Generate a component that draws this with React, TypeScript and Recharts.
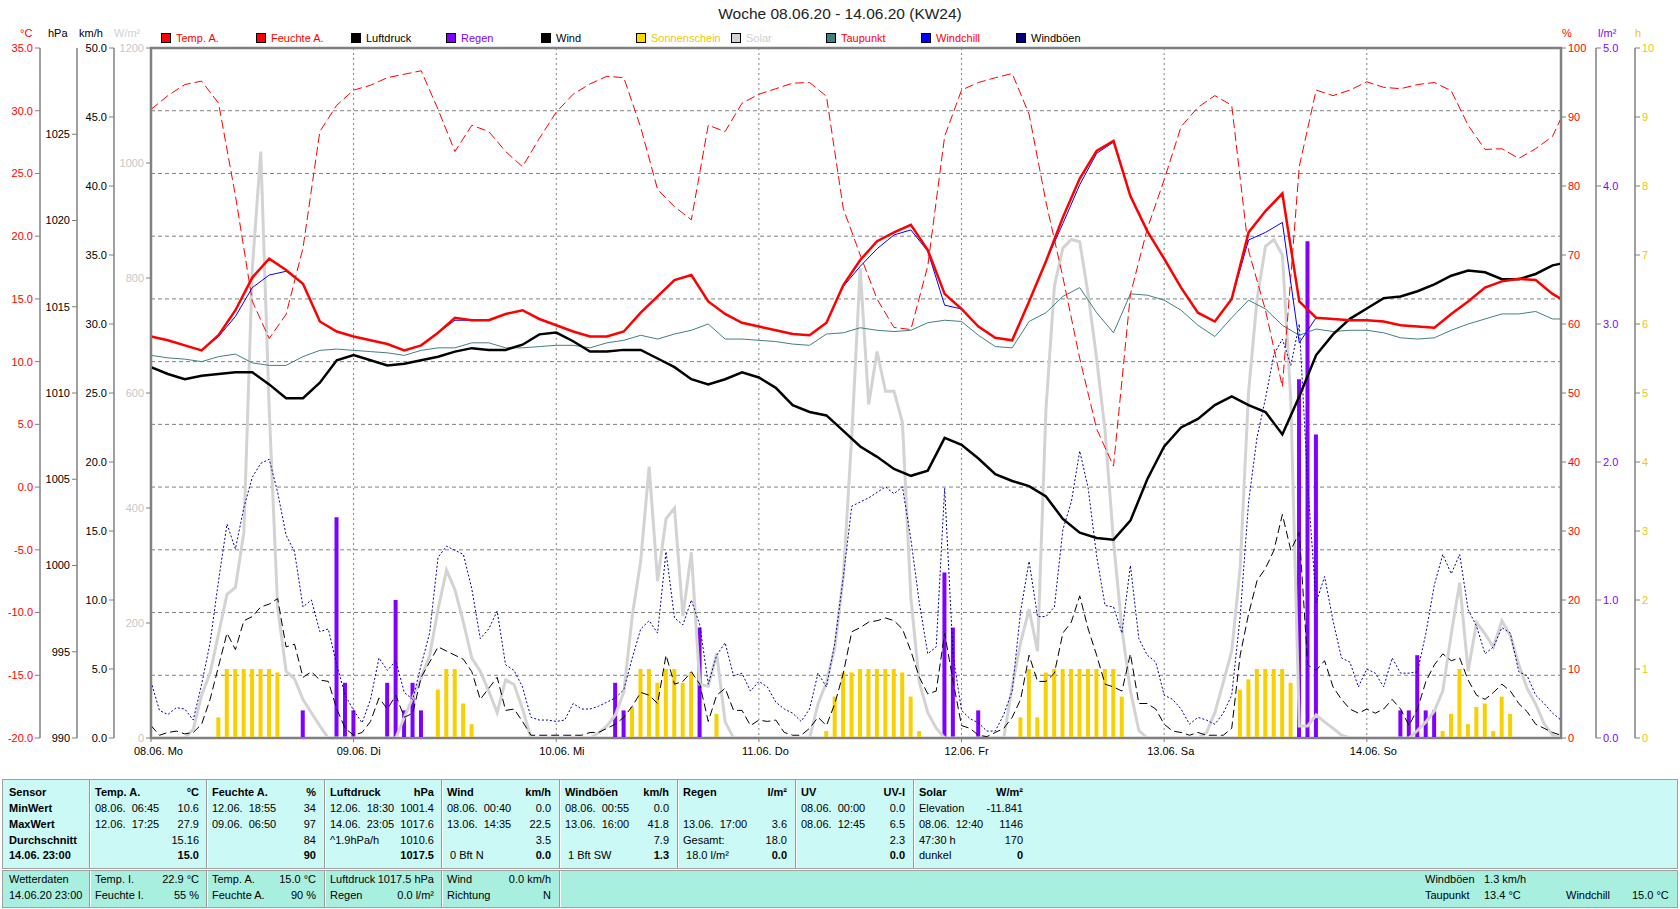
import React from "react";
import {
  ComposedChart,
  Line,
  Bar,
  XAxis,
  YAxis,
  CartesianGrid,
  ReferenceArea,
} from "recharts";

const FONT = '"Liberation Sans", Arial, sans-serif';
const NARROW = '"Liberation Sans Narrow", "Arial Narrow", "Liberation Sans", Arial, sans-serif';
const GRID = "#808080";

const dayLabels = ["08.06. Mo", "09.06. Di", "10.06. Mi", "11.06. Do", "12.06. Fr", "13.06. Sa", "14.06. So"];
const dayTicks = [0, 24, 48, 72, 96, 120, 144];

const tempTicks = [-20, -15, -10, -5, 0, 5, 10, 15, 20, 25, 30, 35];
const pressTicks = [990, 995, 1000, 1005, 1010, 1015, 1020, 1025];
const windTicks = [0, 5, 10, 15, 20, 25, 30, 35, 40, 45, 50];
const solarTicks = [0, 200, 400, 600, 800, 1000, 1200];
const humTicks = [0, 10, 20, 30, 40, 50, 60, 70, 80, 90, 100];
const rainTicks = [0, 1, 2, 3, 4, 5];
const sunTicks = [0, 1, 2, 3, 4, 5, 6, 7, 8, 9, 10];

// every 2 hours (00:00, 02:00 ... 22:00 per day) plus the last reading 14.06. 23:00
const tempA = [
  12.0, 11.7, 11.3, 10.9, 12.1, 14.1, 16.7, 18.2, 17.3, 16.2, 13.2, 12.4,
  12.0, 11.7, 11.4, 10.9, 11.3, 12.3, 13.5, 13.3, 13.3, 13.8, 14.1, 13.4,
  12.9, 12.4, 12.0, 12.0, 12.4, 13.9, 15.2, 16.5, 16.9, 14.8, 13.8, 13.1,
  12.8, 12.5, 12.2, 12.1, 13.1, 16.1, 18.1, 19.6, 20.3, 20.9, 18.9, 15.4,
  14.2, 12.8, 11.9, 11.7, 14.8, 18.0, 21.5, 24.6, 26.8, 27.6, 23.2, 20.4,
  18.2, 15.9, 13.9, 13.2, 15.0, 20.3, 22.0, 23.4, 14.8, 13.5, 13.4, 13.3,
  13.3, 13.2, 12.9, 12.8, 12.7, 13.8, 14.8, 15.9, 16.4, 16.6, 16.5, 15.4,
  15.0,
];
const windchill = [
  12.0, 11.7, 11.3, 10.9, 12.0, 13.6, 15.9, 16.9, 17.2, 16.2, 13.2, 12.4,
  12.0, 11.7, 11.4, 10.9, 11.3, 12.3, 13.3, 13.3, 13.3, 13.8, 14.1, 13.4,
  12.9, 12.4, 12.0, 12.0, 12.4, 13.9, 15.2, 16.5, 16.9, 14.8, 13.8, 13.1,
  12.8, 12.5, 12.2, 12.1, 13.1, 16.0, 17.6, 19.0, 20.1, 20.5, 18.8, 14.5,
  14.2, 12.8, 11.9, 11.7, 14.8, 18.0, 21.0, 24.1, 26.6, 27.5, 23.2, 20.4,
  18.2, 15.9, 13.9, 13.2, 15.0, 19.7, 20.3, 21.1, 11.5, 13.5, 13.4, 13.3,
  13.3, 13.2, 12.9, 12.8, 12.7, 13.8, 14.8, 15.9, 16.4, 16.6, 16.5, 15.4,
  15.0,
];
const dewPoint = [
  10.5, 10.3, 10.2, 10.0, 10.4, 10.6, 9.9, 9.7, 9.7, 10.4, 10.9, 11.0,
  10.9, 10.8, 10.7, 10.5, 10.9, 11.1, 11.1, 11.5, 11.5, 11.1, 11.1, 11.2,
  11.3, 11.3, 11.1, 11.5, 11.7, 12.1, 11.8, 12.2, 12.5, 13.0, 11.8, 11.8,
  11.7, 11.6, 11.4, 11.3, 12.2, 12.3, 12.7, 12.5, 12.4, 12.5, 13.1, 13.3,
  13.2, 12.1, 11.2, 11.1, 13.2, 13.9, 15.2, 15.9, 13.9, 12.3, 15.4, 15.3,
  14.9, 14.1, 12.9, 12.0, 13.5, 14.9, 14.2, 12.9, 12.1, 12.6, 12.4, 12.5,
  12.5, 12.3, 11.9, 11.8, 11.9, 12.5, 13.0, 13.4, 13.8, 13.8, 14.0, 13.4,
  13.4,
];
const humidity = [
  91.1, 93.1, 94.7, 95.2, 92.0, 78.6, 63.3, 57.9, 61.4, 71.0, 87.9, 91.7,
  93.9, 94.6, 95.7, 96.2, 96.7, 91.1, 85.0, 88.8, 87.9, 85.0, 82.8, 86.9,
  90.7, 93.3, 94.8, 95.9, 95.7, 88.5, 79.5, 77.0, 75.1, 88.8, 87.9, 92.0,
  93.3, 94.1, 94.9, 95.0, 93.0, 76.7, 70.0, 63.6, 59.5, 59.2, 68.4, 87.2,
  93.9, 95.0, 95.7, 96.3, 90.4, 77.7, 66.8, 55.0, 44.8, 39.4, 64.3, 73.8,
  80.9, 88.6, 91.4, 93.1, 91.7, 70.6, 62.0, 50.9, 82.8, 93.9, 93.1, 93.9,
  95.1, 94.3, 94.1, 94.7, 95.0, 93.8, 88.8, 85.3, 85.4, 84.0, 85.4, 87.2,
  89.8,
];
const pressure = [
  1011.5, 1011.1, 1010.8, 1011.0, 1011.1, 1011.2, 1011.2, 1010.5, 1009.7, 1009.7, 1010.6, 1011.9,
  1012.2, 1011.9, 1011.6, 1011.7, 1011.9, 1012.1, 1012.4, 1012.6, 1012.5, 1012.5, 1012.8, 1013.4,
  1013.5, 1013.0, 1012.4, 1012.4, 1012.5, 1012.5, 1012.0, 1011.5, 1010.8, 1010.5, 1010.8, 1011.2,
  1010.9, 1010.3, 1009.3, 1008.9, 1008.7, 1007.8, 1006.9, 1006.3, 1005.6, 1005.2, 1005.5, 1007.4,
  1007.0, 1006.2, 1005.3, 1004.9, 1004.6, 1004.0, 1002.7, 1001.9, 1001.6, 1001.5, 1002.6, 1005.0,
  1006.9, 1008.0, 1008.5, 1009.3, 1009.8, 1009.3, 1008.9, 1007.6, 1009.8, 1012.2, 1013.4, 1014.3,
  1014.9, 1015.5, 1015.6, 1015.9, 1016.3, 1016.8, 1017.1, 1017.0, 1016.6, 1016.6, 1016.9, 1017.4,
  1017.5,
];

// hourly readings, 08.06. 00:00 ... 14.06. 23:00
const solar = [
  0, 0, 0, 0, 0, 15, 75, 113, 181, 250, 262, 358, 817, 1020, 572, 227, 116, 103, 67, 44, 21, 0, 0, 0,
  0, 0, 0, 0, 0, 0, 36, 70, 105, 143, 224, 292, 258, 201, 139, 116, 82, 44, 101, 93, 51, 0, 0, 0,
  0, 0, 0, 0, 0, 9, 21, 40, 80, 212, 308, 472, 273, 381, 400, 212, 323, 93, 90, 147, 28, 0, 0, 0,
  0, 0, 0, 0, 0, 0, 0, 59, 97, 158, 281, 526, 817, 580, 672, 603, 603, 549, 243, 97, 44, 17, 0, 0,
  0, 0, 0, 0, 0, 0, 90, 166, 224, 151, 572, 786, 852, 867, 863, 771, 660, 534, 342, 189, 82, 13, 0, 0,
  0, 0, 0, 0, 0, 9, 44, 97, 151, 296, 603, 763, 855, 867, 840, 587, 21, 21, 40, 28, 17, 5, 0, 0,
  0, 0, 0, 0, 0, 0, 13, 28, 47, 82, 181, 270, 116, 201, 181, 158, 204, 178, 128, 86, 59, 25, 5, 0,
];
const wind = [
  0.9, 0.2, 0.4, 0.5, 0.3, 0.4, 1.0, 2.8, 5.2, 7.6, 6.4, 8.5, 8.8, 9.5, 9.7, 10.1, 6.6, 6.8, 4.4, 4.8, 4.2, 4.1, 2.1, 0.7,
  0.2, 0.4, 1.2, 2.9, 2.1, 3.1, 1.5, 1.8, 4.4, 5.5, 6.6, 6.3, 6.0, 5.7, 4.8, 2.8, 3.6, 4.4, 2.0, 2.1, 1.2, 0.2, 0.2, 0.2,
  0.2, 0.2, 0.2, 0.2, 0.4, 0.4, 0.7, 1.0, 1.5, 2.3, 3.3, 3.1, 2.5, 6.0, 3.9, 4.1, 4.8, 3.9, 1.2, 3.1, 3.6, 2.0, 2.0, 0.9,
  1.3, 1.2, 1.3, 0.4, 0.2, 0.2, 0.7, 1.5, 0.9, 2.5, 4.7, 7.7, 8.0, 8.4, 8.5, 8.7, 8.5, 7.9, 6.3, 4.4, 3.2, 3.4, 7.6, 4.1,
  0.9, 0.7, 0.2, 0.1, 0.4, 0.7, 1.5, 2.8, 6.0, 4.1, 4.1, 4.7, 7.6, 8.4, 10.3, 7.9, 6.0, 3.9, 3.7, 3.4, 6.1, 2.5, 2.5, 2.1,
  1.0, 0.5, 0.4, 0.2, 0.4, 0.2, 0.2, 0.2, 0.7, 6.0, 9.0, 11.4, 12.3, 13.6, 16.2, 13.6, 14.9, 5.3, 4.9, 5.6, 3.7, 2.8, 2.1, 1.8,
  2.1, 1.8, 2.1, 2.8, 2.1, 0.9, 2.1, 4.1, 5.3, 6.1, 5.6, 5.8, 4.2, 3.1, 2.8, 3.3, 3.9, 3.4, 2.5, 1.9, 1.0, 0.7, 0.4, 0.2,
];
const gusts = [
  4.1, 2.0, 1.7, 2.2, 2.1, 1.3, 3.9, 6.9, 11.4, 15.5, 13.7, 16.7, 18.9, 19.9, 20.2, 17.8, 14.7, 13.5, 9.5, 10.0, 7.7, 7.9, 5.3, 3.1,
  2.0, 1.1, 2.8, 5.8, 4.9, 5.6, 3.3, 2.8, 5.3, 7.6, 13.1, 13.9, 13.6, 13.3, 10.8, 7.2, 7.9, 9.2, 5.3, 4.9, 3.7, 1.5, 1.3, 1.3,
  1.2, 1.3, 2.5, 2.1, 2.1, 2.3, 2.6, 2.9, 3.5, 5.8, 7.9, 8.5, 7.6, 13.5, 8.7, 8.2, 10.0, 8.2, 3.9, 6.0, 6.9, 4.5, 4.7, 3.4,
  4.1, 3.7, 2.6, 2.1, 1.8, 1.2, 2.1, 4.7, 3.7, 6.9, 11.7, 16.8, 17.1, 17.4, 17.8, 18.2, 17.7, 18.2, 14.4, 9.8, 6.1, 6.6, 18.1, 6.0,
  2.0, 1.4, 1.1, 0.5, 0.5, 1.7, 3.4, 9.2, 12.8, 8.8, 8.8, 9.5, 15.1, 17.1, 20.8, 18.1, 13.2, 9.6, 9.5, 7.6, 12.5, 7.2, 6.0, 5.5,
  3.1, 2.8, 2.1, 1.0, 1.5, 1.3, 1.0, 1.8, 3.1, 8.8, 17.1, 21.8, 24.6, 27.8, 28.9, 27.0, 30.0, 18.4, 9.8, 11.7, 8.5, 5.8, 5.5, 3.7,
  5.0, 4.7, 3.7, 5.8, 4.7, 4.7, 4.8, 7.6, 11.1, 13.3, 11.9, 13.3, 9.3, 8.1, 6.1, 6.6, 8.0, 7.6, 4.8, 4.5, 3.1, 2.5, 1.8, 1.3,
];

// rain (l/m²) and sunshine (h) per hour, only hours with a value
const rainHours = [18, 22, 23, 24, 28, 29, 30, 31, 32, 55, 56, 65, 94, 95, 98, 136, 137, 138, 148, 149, 150, 151, 152];
const rainVals = [0.2, 1.6, 0.4, 0.2, 0.4, 1.0, 0.2, 0.4, 0.2, 0.4, 0.2, 0.8, 1.2, 0.8, 0.2, 2.6, 3.6, 2.2, 0.2, 0.2, 0.6, 0.2, 0.2];
const sunHours = [
  8, 9, 10, 11, 12, 13, 14, 15,
  34, 35, 36, 37, 38,
  57, 58, 59, 60, 61, 62, 63, 64, 67,
  80, 81, 82, 83, 84, 85, 86, 87, 88, 89, 90, 91,
  103, 104, 105, 106, 107, 108, 109, 110, 111, 112, 113, 114, 115,
  129, 130, 131, 132, 133, 134, 135,
  153, 154, 155, 156, 157, 158, 159, 160, 161,
];
const sunVals = [
  0.3, 1, 1, 1, 1, 1, 1, 0.95,
  0.7, 1, 1, 0.5, 0.2,
  0.45, 1, 1, 0.8, 1, 1, 0.8, 0.95, 0.35,
  0.1, 0.6, 0.95, 0.95, 1, 1, 1, 1, 1, 0.95, 0.6, 0.1,
  0.3, 1, 0.3, 0.95, 1, 1, 1, 1, 1, 1, 1, 1, 0.6,
  0.7, 0.85, 1, 1, 1, 1, 0.8,
  0.1, 0.35, 1, 0.2, 0.45, 0.5, 0.1, 0.6, 0.35,
];

const rows = Array.from({ length: 168 }, (_, h) => {
  const i = h === 167 ? 84 : h % 2 === 0 ? h / 2 : -1;
  const pick = (arr: number[]) => (i >= 0 ? arr[i] : null);
  const r = rainHours.indexOf(h);
  const s = sunHours.indexOf(h);
  return {
    h,
    temp: pick(tempA),
    chill: pick(windchill),
    dew: pick(dewPoint),
    hum: pick(humidity),
    press: pick(pressure),
    solar: solar[h],
    wind: wind[h],
    gust: gusts[h],
    rain: r >= 0 ? rainVals[r] : null,
    sun: s >= 0 ? sunVals[s] : null,
  };
});

const legendNames = ["Temp. A.", "Feuchte A.", "Luftdruck", "Regen", "Wind", "Sonnenschein", "Solar", "Taupunkt", "Windchill", "Windböen"];
const legendBox = ["#FF0000", "#FF0000", "#000000", "#8000FF", "#000000", "#FFD700", "#D3D3D3", "#408080", "#0000FF", "#000080"];
const legendText = ["#FF0000", "#FF0000", "#000000", "#8000FF", "#000000", "#F0C800", "#D0D0D0", "#FF0000", "#FF0000", "#000000"];

const statHead = [
  ["Temp. A.", "°C"], ["Feuchte A.", "%"], ["Luftdruck", "hPa"], ["Wind", "km/h"],
  ["Windböen", "km/h"], ["Regen", "l/m²"], ["UV", "UV-I"], ["Solar", "W/m²"],
];
const statRowNames = ["MinWert", "MaxWert", "Durchschnitt", "14.06. 23:00"];
const statCells = [
  [["08.06.  06:45", "10.6"], ["12.06.  17:25", "27.9"], ["", "15.16"], ["", "15.0"]],
  [["12.06.  18:55", "34"], ["09.06.  06:50", "97"], ["", "84"], ["", "90"]],
  [["12.06.  18:30", "1001.4"], ["14.06.  23:05", "1017.6"], ["^1.9hPa/h", "1010.6"], ["", "1017.5"]],
  [["08.06.  00:40", "0.0"], ["13.06.  14:35", "22.5"], ["", "3.5"], [" 0 Bft N", "0.0"]],
  [["08.06.  00:55", "0.0"], ["13.06.  16:00", "41.8"], ["", "7.9"], [" 1 Bft SW", "1.3"]],
  [["", ""], ["13.06.  17:00", "3.6"], ["Gesamt:", "18.0"], [" 18.0 l/m²", "0.0"]],
  [["08.06.  00:00", "0.0"], ["08.06.  12:45", "6.5"], ["", "2.3"], ["", "0.0"]],
  [["Elevation", "-11.841"], ["08.06.  12:40", "1146"], ["47:30 h", "170"], ["dunkel", "0"]],
];
const nowCells = [
  [["Temp. I.", "22.9 °C"], ["Feuchte I.", "55 %"]],
  [["Temp. A.", "15.0 °C"], ["Feuchte A.", "90 %"]],
  [["Luftdruck", "1017.5 hPa"], ["Regen", "0.0 l/m²"]],
  [["Wind", "0.0 km/h"], ["Richtung", "N"]],
];
const colLeft = [89, 206, 324, 441, 559, 677, 795, 913];

function DayTick(props: any) {
  const { x, y, payload } = props;
  return (
    <text x={x - 17} y={y + 11} fontSize={11} fontFamily={FONT} fill="#000">
      {dayLabels[Math.round(payload.value / 24)]}
    </text>
  );
}

function Txt(props: any) {
  const { x, y, children, bold, right, color = "#000", size = 11 } = props;
  const style: React.CSSProperties = {
    position: "absolute",
    top: y - 7,
    left: right ? x - 200 : x,
    width: right ? 200 : undefined,
    textAlign: right ? "right" : "left",
    fontWeight: bold ? 700 : 400,
    fontSize: size,
    lineHeight: "14px",
    whiteSpace: "pre",
    color,
    fontFamily: NARROW,
  };
  return <div style={style}>{children}</div>;
}

function Sep({ x, top, height }: { x: number; top: number; height: number }) {
  return (
    <div style={{ position: "absolute", left: x, top, width: 1, height, background: "#9A9A9A", borderRight: "1px solid #FFFFFF" }} />
  );
}

export default function App() {
  const tick = { fontSize: 11, fontFamily: FONT };
  const rowY = [792, 808, 824, 840, 855];
  // axis ids are ordered alphabetically by recharts: a* sits next to the plot, d* outermost
  return (
    <div style={{ position: "absolute", left: 0, top: 0, width: 1680, height: 909, background: "#fff", overflow: "hidden" }}>
      <ComposedChart width={1680} height={778} data={rows} margin={{ top: 48, right: 0, bottom: 10, left: 0 }}>
        <XAxis xAxisId="x" dataKey="h" type="number" domain={[0, 167]} ticks={dayTicks} interval={0}
          tick={<DayTick />} tickSize={4} tickLine={{ stroke: GRID }} axisLine={{ stroke: GRID, strokeWidth: 2 }} height={30} />
        <XAxis xAxisId="x2" dataKey="h" type="number" domain={[0, 167]} hide />
        <YAxis yAxisId="aSolar" domain={[0, 1200]} ticks={solarTicks} interval={0} width={37} tickSize={5}
          tick={{ ...tick, fill: "#C8C8C8" }} tickLine={{ stroke: GRID }} axisLine={{ stroke: GRID, strokeWidth: 2 }} />
        <YAxis yAxisId="bWind" domain={[0, 50]} ticks={windTicks} interval={0} width={37} tickSize={5}
          tick={{ ...tick, fill: "#000" }} tickFormatter={(v: number) => v.toFixed(1)}
          tickLine={{ stroke: GRID }} axisLine={{ stroke: GRID, strokeWidth: 1.5 }} />
        <YAxis yAxisId="cPress" domain={[990, 1030]} ticks={pressTicks} interval={0} width={37} tickSize={5}
          tick={{ ...tick, fill: "#000" }} tickLine={{ stroke: GRID }} axisLine={{ stroke: GRID, strokeWidth: 1.5 }} />
        <YAxis yAxisId="dTemp" domain={[-20, 35]} ticks={tempTicks} interval={0} width={40} tickSize={5}
          tick={{ ...tick, fill: "#FF0000" }} tickFormatter={(v: number) => v.toFixed(1)}
          tickLine={{ stroke: GRID }} axisLine={{ stroke: GRID, strokeWidth: 1.5 }} />
        <YAxis yAxisId="eHum" orientation="right" domain={[0, 100]} ticks={humTicks} interval={0} width={35} tickSize={5}
          tick={{ ...tick, fill: "#FF0000" }} tickLine={{ stroke: GRID }} axisLine={{ stroke: GRID, strokeWidth: 2 }} />
        <YAxis yAxisId="fRain" orientation="right" domain={[0, 5]} ticks={rainTicks} interval={0} width={39} tickSize={5}
          tick={{ ...tick, fill: "#8000FF" }} tickFormatter={(v: number) => v.toFixed(1)}
          tickLine={{ stroke: GRID }} axisLine={{ stroke: GRID, strokeWidth: 1.5 }} />
        <YAxis yAxisId="gSun" orientation="right" domain={[0, 10]} ticks={sunTicks} interval={0} width={45} tickSize={5}
          tick={{ ...tick, fill: "#F0C800" }} tickLine={{ stroke: GRID }} axisLine={{ stroke: GRID, strokeWidth: 1.5 }} />

        <CartesianGrid xAxisId="x" yAxisId="dTemp" vertical={false} stroke={GRID} strokeDasharray="4 3" />
        <CartesianGrid xAxisId="x" yAxisId="dTemp" horizontal={false} stroke={GRID} strokeDasharray="2 3" />

        <Bar xAxisId="x" yAxisId="gSun" dataKey="sun" fill="#F8D000" barSize={4} isAnimationActive={false} />
        <Line xAxisId="x" yAxisId="aSolar" dataKey="solar" stroke="#D3D3D3" strokeWidth={3} dot={false} isAnimationActive={false} />
        <Line xAxisId="x" yAxisId="bWind" dataKey="wind" stroke="#000000" strokeWidth={1} strokeDasharray="8 4" dot={false} isAnimationActive={false} />
        <Line xAxisId="x" yAxisId="bWind" dataKey="gust" stroke="#0000A0" strokeWidth={1} strokeDasharray="2 2" dot={false} isAnimationActive={false} />
        <Bar xAxisId="x2" yAxisId="fRain" dataKey="rain" fill="#8000FF" barSize={4} isAnimationActive={false} />
        <Line xAxisId="x" yAxisId="dTemp" dataKey="dew" stroke="#408080" strokeWidth={1} dot={false} connectNulls isAnimationActive={false} />
        <Line xAxisId="x" yAxisId="eHum" dataKey="hum" stroke="#FF0000" strokeWidth={1} strokeDasharray="9 4" dot={false} connectNulls isAnimationActive={false} />
        <Line xAxisId="x" yAxisId="cPress" dataKey="press" stroke="#000000" strokeWidth={2.5} dot={false} connectNulls isAnimationActive={false} />
        <Line xAxisId="x" yAxisId="dTemp" dataKey="chill" stroke="#0000FF" strokeWidth={1} dot={false} connectNulls isAnimationActive={false} />
        <Line xAxisId="x" yAxisId="dTemp" dataKey="temp" stroke="#FF0000" strokeWidth={2.5} dot={false} connectNulls isAnimationActive={false} />

        <ReferenceArea xAxisId="x" yAxisId="dTemp" x1={0} x2={167} y1={-20} y2={35} fill="none" stroke={GRID} strokeWidth={2.5} />
      </ComposedChart>

      {/* title, units, legend */}
      <div style={{ position: "absolute", left: 0, width: 1680, top: 5, textAlign: "center", fontFamily: FONT, fontSize: 15.5, color: "#222" }}>
        Woche 08.06.20 - 14.06.20 (KW24)
      </div>
      <Txt x={20} y={33} color="#FF0000">°C</Txt>
      <Txt x={48} y={33}>hPa</Txt>
      <Txt x={79} y={33}>km/h</Txt>
      <Txt x={114} y={33} color="#D0D0D0">W/m²</Txt>
      <Txt x={1562} y={33} color="#FF0000">%</Txt>
      <Txt x={1598} y={33} color="#8000FF">l/m²</Txt>
      <Txt x={1635} y={33} color="#F0C800">h</Txt>
      {legendNames.map((n, i) => (
        <React.Fragment key={n}>
          <div style={{ position: "absolute", left: 161 + i * 95, top: 33, width: 8, height: 8, background: legendBox[i], border: "1px solid #000" }} />
          <Txt x={176 + i * 95} y={38} color={legendText[i]}>{n}</Txt>
        </React.Fragment>
      ))}

      {/* statistics panel */}
      <div style={{ position: "absolute", left: 2, top: 779, width: 1674, height: 88, background: "#CBF9F6", border: "1px solid #A0A0A0" }} />
      {colLeft.map((x) => <Sep key={x} x={x} top={780} height={88} />)}
      <Txt x={9} y={rowY[0]} bold>Sensor</Txt>
      {statRowNames.map((n, i) => <Txt key={n} x={9} y={rowY[i + 1]} bold>{n}</Txt>)}
      {statHead.map((hd, c) => (
        <React.Fragment key={c}>
          <Txt x={colLeft[c] + 6} y={rowY[0]} bold>{hd[0]}</Txt>
          <Txt x={colLeft[c] + 110} y={rowY[0]} bold right>{hd[1]}</Txt>
          {statCells[c].map((cell, r) => (
            <React.Fragment key={r}>
              <Txt x={colLeft[c] + 6} y={rowY[r + 1]}>{cell[0]}</Txt>
              <Txt x={colLeft[c] + 110} y={rowY[r + 1]} bold={r === 3} right>{cell[1]}</Txt>
            </React.Fragment>
          ))}
        </React.Fragment>
      ))}

      {/* current values panel */}
      <div style={{ position: "absolute", left: 2, top: 870, width: 1674, height: 36, background: "#A9EFE0", border: "1px solid #A0A0A0" }} />
      {colLeft.slice(0, 5).map((x) => <Sep key={x} x={x} top={871} height={36} />)}
      <Txt x={9} y={879}>Wetterdaten</Txt>
      <Txt x={9} y={895}>14.06.20 23:00</Txt>
      {nowCells.map((col, c) => (
        <React.Fragment key={c}>
          {col.map((cell, r) => (
            <React.Fragment key={r}>
              <Txt x={colLeft[c] + 6} y={r === 0 ? 879 : 895}>{cell[0]}</Txt>
              <Txt x={colLeft[c] + 110} y={r === 0 ? 879 : 895} right>{cell[1]}</Txt>
            </React.Fragment>
          ))}
        </React.Fragment>
      ))}
      <Txt x={1425} y={879}>Windböen</Txt>
      <Txt x={1484} y={879}>1.3 km/h</Txt>
      <Txt x={1425} y={895}>Taupunkt</Txt>
      <Txt x={1484} y={895}>13.4 °C</Txt>
      <Txt x={1566} y={895}>Windchill</Txt>
      <Txt x={1632} y={895}>15.0 °C</Txt>
    </div>
  );
}
